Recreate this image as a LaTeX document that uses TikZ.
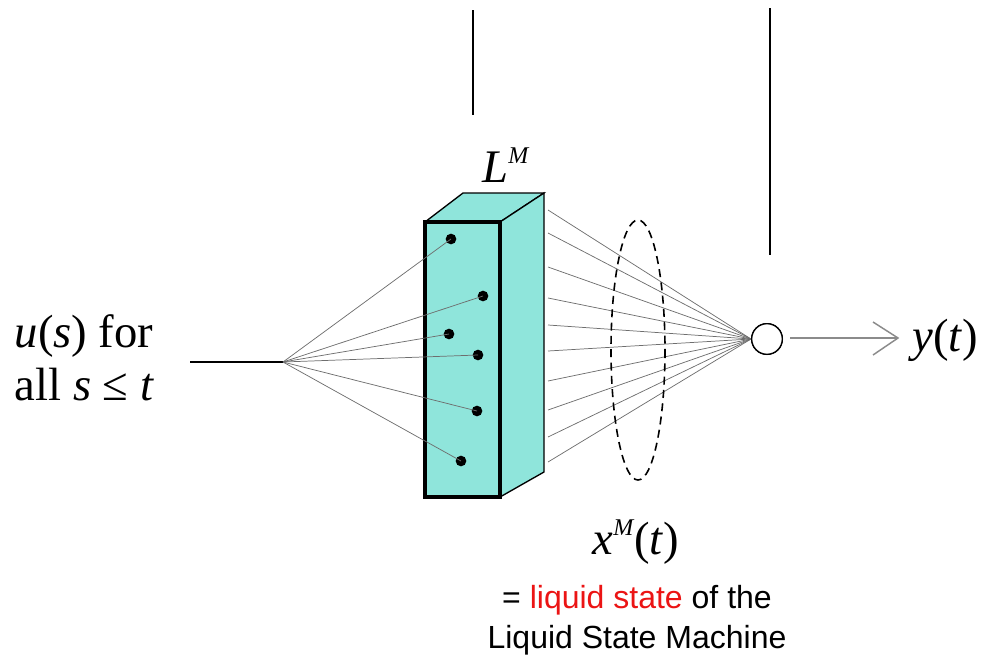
\documentclass[tikz,border=0pt]{standalone}
\usepackage{fontspec}
\setmainfont{Liberation Serif}
\setsansfont{Liberation Sans}
\definecolor{liquid}{RGB}{143,229,219}
\definecolor{fanc}{RGB}{110,110,110}
\definecolor{redtxt}{RGB}{235,20,20}
\begin{document}
\begin{tikzpicture}[x=0.75pt,y=-0.75pt,
  fan/.style={draw=fanc,line width=0.55pt},
  dotn/.style={circle,fill=black,inner sep=0pt,minimum size=8pt},
  serif/.style={font=\fontsize{35}{40}\selectfont},
  sans/.style={font=\sffamily\fontsize{24}{30}\selectfont}]
\useasboundingbox (0,0) rectangle (999,657);
% top lines
\draw[line width=1.1pt] (473,10) -- (473,115);
\draw[line width=1.1pt] (770,8) -- (770,255);
% box
\filldraw[fill=liquid,draw=black,line width=1pt] (425,222) -- (463,193) -- (544,193) -- (500,222) -- cycle;
\filldraw[fill=liquid,draw=black,line width=1pt] (500,222) -- (544,193) -- (544,472) -- (500,497) -- cycle;
\filldraw[fill=liquid,draw=black,line width=2.3pt] (425,222) rectangle (500,497);
% dots
\node[dotn] (d1) at (451,239) {};
\node[dotn] (d2) at (483,296) {};
\node[dotn] (d3) at (449,334) {};
\node[dotn] (d4) at (478,355) {};
\node[dotn] (d5) at (477,411) {};
\node[dotn] (d6) at (461,461) {};
% input
\coordinate (in) at (190,362);
\coordinate (f) at (283,362);
\draw[line width=1.1pt] (in) -- (f);
\foreach \i in {1,...,6} \draw[fan] (f) -- (d\i.center);
% output neuron
\node[circle,draw=black,fill=white,line width=1pt,minimum size=23pt,inner sep=0pt] (o) at (767,339) {};
\foreach \y [count=\k] in {210,233,267,298,325,351,381,410,437,462} {
  \coordinate (r\k) at (548,\y);
  \draw[fan] (r\k) -- (o.west);
}
\node[circle,draw=black,fill=white,line width=1pt,minimum size=23pt,inner sep=0pt] at (o) {};
% dashed ellipse
\draw[line width=1.2pt,dash pattern=on 6pt off 4pt] (638,350) ellipse (27 and 130);
% output arrow
\coordinate (oa) at (790,338);
\coordinate (ob) at (898,338);
\draw[draw=fanc!80,line width=1.1pt] (oa) -- (ob);
\draw[draw=fanc!80,line width=1.1pt] (873,322) -- (ob) -- (873,355);
% texts
\node[serif,anchor=west] (y) at (908,340) {\textit{y}(\textit{t})};
\node[serif,align=left,anchor=west] (u) at (10,358) {\textit{u}(\textit{s}) for\\all \textit{s} ≤ \textit{t}};
\node[serif] (L) at (506,165) {\textit{L}\raisebox{0.9ex}{\fontsize{18}{18}\selectfont\textit{M}}};
\node[serif] (x) at (636,542) {\textit{x}\raisebox{0.9ex}{\fontsize{18}{18}\selectfont\textit{M}}(\textit{t})};
\node[sans,align=center] (cap) at (637,620) {= \textcolor{redtxt}{liquid state} of the\\Liquid State Machine};
\end{tikzpicture}
\end{document}
